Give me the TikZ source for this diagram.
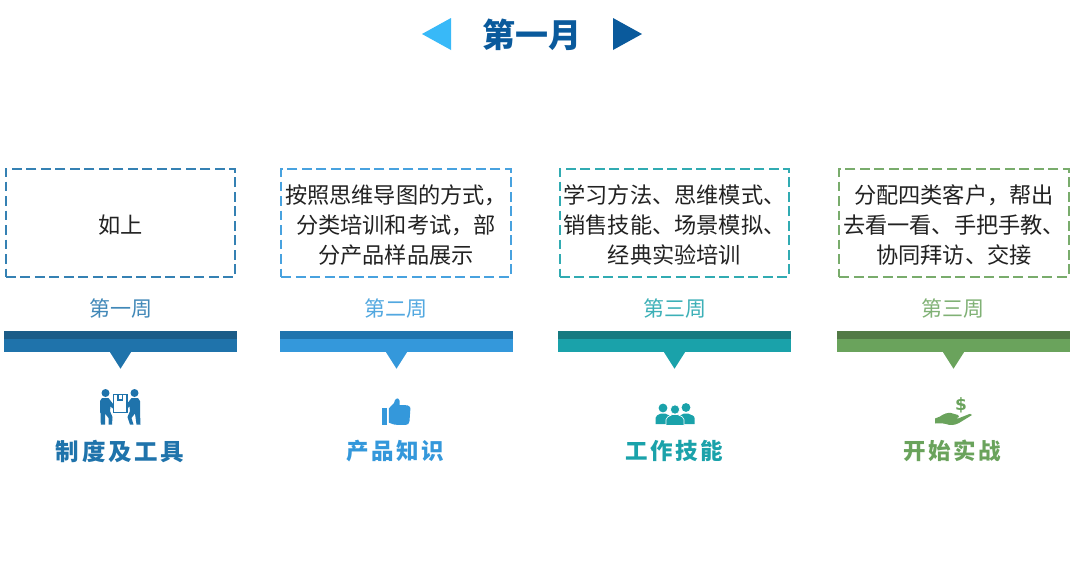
\documentclass[tikz,border=0pt]{standalone}
\usepackage{fontspec}
\setmainfont{Noto Sans CJK SC}
\newfontfamily\spaced[LetterSpace=11.5]{Noto Sans CJK SC}
\newfontfamily\coinfont{DejaVu Sans}
\definecolor{blueA}{HTML}{1F73AB}
\definecolor{blueAdark}{HTML}{1B5C88}
\definecolor{blueB}{HTML}{3498DB}
\definecolor{blueBdark}{HTML}{1F74AE}
\definecolor{tealC}{HTML}{1AA2AA}
\definecolor{tealCdark}{HTML}{167A80}
\definecolor{greenD}{HTML}{6AA35C}
\definecolor{greenDdark}{HTML}{527A45}
\definecolor{titleblue}{HTML}{0A5A9C}
\definecolor{lightblue}{HTML}{38B9F8}
\definecolor{ink}{HTML}{222222}
\begin{document}
\begin{tikzpicture}[
  x=1pt,y=-1pt,
  note/.style={rectangle,draw=#1,line width=2pt,dash pattern=on 9.8pt off 4.7pt,
    minimum width=229.5pt,minimum height=108pt,inner sep=0pt},
  notetext/.style={text=ink,align=center,yshift=-2.5pt,inner sep=0pt,font=\fontsize{22.2pt}{30pt}\selectfont},
  week/.style={text=#1!85!white,inner sep=0pt,font=\fontsize{21pt}{24pt}\selectfont},
  bar/.style={rectangle,fill=#1,minimum width=233pt,minimum height=21pt,inner sep=0pt},
  strip/.style={rectangle,fill=#1,minimum width=233pt,minimum height=7.5pt,inner sep=0pt,anchor=north},
  topic/.style={text=#1,inner sep=0pt,font=\spaced\bfseries\fontsize{22.5pt}{26pt}\selectfont}
  ]
  \useasboundingbox (0,0) rectangle (1080,579);
  \fill[white] (0,0) rectangle (1080,579);
  % heading
  \node [text=titleblue,inner sep=0pt,font=\bfseries\fontsize{33pt}{36pt}\selectfont] (title) at (532,35) {第一月};
  \fill [lightblue] (422,34) -- (451,18) -- (451,50) -- cycle;
  \fill [titleblue] (642,34) -- (613,18) -- (613,50) -- cycle;
  % boxes
  \node [note=blueA!90!white,label={[notetext]center:{如上}}] (boxa) at (120.5,222.5) {};
  \node [note=blueB!90!white,label={[notetext]center:{按照思维导图的方式，\\分类培训和考试，部\\分产品样品展示}}] (boxb) at (396,222.5) {};
  \node [note=tealC!90!white,label={[notetext]center:{学习方法、思维模式、\\销售技能、场景模拟、\\经典实验培训}}] (boxc) at (674.5,222.5) {};
  \node [note=greenD!90!white,label={[notetext]center:{分配四类客户，帮出\\去看一看、手把手教、\\协同拜访、交接}}] (boxd) at (954,222.5) {};
  % weeks
  \node [week=blueA] (weeka) at (120.5,309) {第一周};
  \node [week=blueB] (weekb) at (396,309) {第二周};
  \node [week=tealC] (weekc) at (674.5,309) {第三周};
  \node [week=greenD] (weekd) at (953,309) {第三周};
  % bars
  \node [bar=blueA] (bara) at (120.5,341.5) {};
  \node [bar=blueB] (barb) at (396.5,341.5) {};
  \node [bar=tealC] (barc) at (674.5,341.5) {};
  \node [bar=greenD] (bard) at (953.5,341.5) {};
  \node [strip=blueAdark] (stripa) at (bara.north) {};
  \node [strip=blueBdark] (stripb) at (barb.north) {};
  \node [strip=tealCdark] (stripc) at (barc.north) {};
  \node [strip=greenDdark] (stripd) at (bard.north) {};
  \fill [blueA] (bara.south) ++(-10.5,0) -- ++(21,0) -- ++(-10.5,16.5) -- cycle;
  \fill [blueB] (barb.south) ++(-10.5,0) -- ++(21,0) -- ++(-10.5,16.5) -- cycle;
  \fill [tealC] (barc.south) ++(-10.5,0) -- ++(21,0) -- ++(-10.5,16.5) -- cycle;
  \fill [greenD] (bard.south) ++(-10.5,0) -- ++(21,0) -- ++(-10.5,16.5) -- cycle;
  % topics
  \node [topic=blueA,font=\spaced\bfseries\fontsize{23.5pt}{26pt}\selectfont] (topica) at (120,451) {制度及工具};
  \node [topic=blueB] (topicb) at (395,451) {产品知识};
  \node [topic=tealC] (topicc) at (674,451) {工作技能};
  \node [topic=greenD] (topicd) at (952.5,451) {开始实战};
  % two men and a parcel
  \fill [blueA] (105.5,393) circle (4);
  \fill [blueA] (134.5,393) circle (4);
  \fill [blueA] (100,401) -- (102,398) -- (108.5,398) -- (113.5,404.5) -- (113.5,409) -- (110.5,406.5) -- (110,411)
    -- (112.5,417) -- (112,424.5) -- (108.5,424.5) -- (108.5,418) -- (105,413.5) -- (105,424.5) -- (100.8,424.5) -- (100.5,413) -- (100,412) -- cycle;
  \fill [blueA] (140,401) -- (138,398) -- (131.5,398) -- (126.5,404.5) -- (126.5,409) -- (129.5,406.5) -- (130,411)
    -- (127.5,417) -- (130,424.5) -- (133.5,424.5) -- (131.5,418) -- (135,413.5) -- (136.5,424.5) -- (140.5,424.5) -- (140,412) -- cycle;
  \draw [blueA,line width=1.3pt] (113.5,394.5) rectangle (127,412.5);
  \draw [blueA,line width=1.1pt] (118,394.5) -- (118,400) -- (122.5,400) -- (122.5,394.5);
  % thumb
  \fill [blueB] (382,407.5) rectangle (386.5,424.5);
  \fill [blueB] (388.8,408.5) -- (394,403) -- (395,400) .. controls (395.5,398) and (398.5,397.5) .. (399.5,400.5)
    -- (399.5,405) -- (407.5,405.3) .. controls (410.5,405.8) and (410.8,408) .. (410.3,410) -- (409.5,421)
    .. controls (409,424) and (408,424.8) .. (406,424.8) -- (397,424.8) .. controls (393,424.8) and (391,423.2) .. (388.8,422.6) -- cycle;
  % three people
  \fill [tealC] (663,408) circle (4.4);
  \fill [tealC] (686,407.5) circle (4.4);
  \fill [tealC] (655.5,424) -- (655.5,418) .. controls (655.5,415.5) and (658,415) .. (661,413.5) -- (665,413.5)
    .. controls (668,415) and (671,415.5) .. (671,418) -- (671,424) -- cycle;
  \fill [tealC] (679,424) -- (679,418) .. controls (679,415.5) and (681,415) .. (684,413.5) -- (688,413.5)
    .. controls (691,415) and (694.5,415.5) .. (694.5,418) -- (694.5,424) -- cycle;
  \fill [tealC,draw=white,line width=0.6pt] (666,425.5) -- (666,419.5) .. controls (666,417) and (668.5,416.5) .. (672.5,414.5) -- (677.5,414.5)
    .. controls (681.5,416.5) and (684,417) .. (684,419.5) -- (684,425.5) -- cycle;
  \fill [tealC,draw=white,line width=0.6pt] (675,409.5) circle (4.6);
  % hand and coin
  \node [text=greenD,inner sep=0pt,font=\coinfont\bfseries\fontsize{17pt}{18pt}\selectfont] (coin) at (961,405) {\$};
  \fill [greenD] (935,418.5) -- (940,416.5) .. controls (944,413.5) and (948,412.5) .. (951,413)
    -- (958,415) .. controls (960,416) and (959,418) .. (957,418) -- (951,418) -- (958,418.5) -- (970,413.8) -- (972,415)
    -- (959,423) .. controls (954,425.5) and (950,425.5) .. (946,424) -- (942,423.3) -- (935,423.5) -- cycle;
\end{tikzpicture}
\end{document}
